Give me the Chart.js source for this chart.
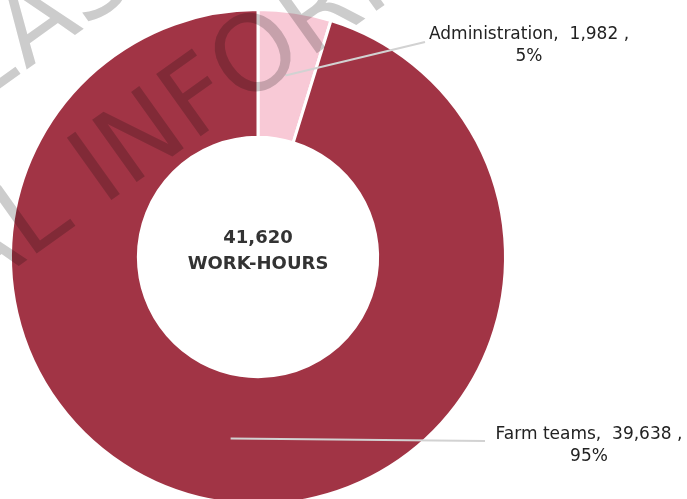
<!DOCTYPE html>
<html>
<head>
<meta charset="utf-8">
<script src="https://cdn.jsdelivr.net/npm/chart.js@4"></script>
<style>
  html, body { margin: 0; padding: 0; background: #fff; overflow: hidden; }
  #wrap { position: relative; width: 687px; height: 514px; }
</style>
</head>
<body>
<div id="wrap"><canvas id="chart"></canvas></div>
<script>
const categories = ['Administration', 'Farm teams'];
const workHours = [1982, 39638];
const valueLabels = ['1,982', '39,638'];
const shareLabels = ['5%', '95%'];
const totalLabel = '41,620';
const totalUnit = 'WORK-HOURS';
const sliceColors = ['#f8c9d6', '#a13445'];

// where each callout sits: text centre and the end of its leader line
const callouts = [
  { textX: 529, textY: 35, lineEndX: 425, lineEndY: 42 },
  { textX: 589, textY: 435, lineEndX: 485, lineEndY: 441 }
];

const calloutPlugin = {
  id: 'callouts',
  afterDatasetsDraw(chart) {
    const ctx = chart.ctx;
    const arcs = chart.getDatasetMeta(0).data;
    ctx.save();

    // total in the hole
    const cx = arcs[0].x;
    const cy = arcs[0].y;
    ctx.fillStyle = '#333';
    ctx.textAlign = 'center';
    ctx.textBaseline = 'middle';
    ctx.font = 'bold 18px "DejaVu Sans"';
    ctx.fillText(totalLabel, cx, cy - 19);
    ctx.fillText(totalUnit, cx, cy + 7);

    // leader lines from the middle of each slice
    arcs.forEach((arc, i) => {
      const p = arc.tooltipPosition();
      const c = callouts[i];
      ctx.strokeStyle = '#d2d2d2';
      ctx.lineWidth = 2;
      ctx.beginPath();
      ctx.moveTo(p.x, p.y);
      ctx.lineTo(c.lineEndX, c.lineEndY);
      ctx.stroke();

      ctx.fillStyle = '#222';
      ctx.font = '17px "DejaVu Sans"';
      ctx.fillText(categories[i] + ',  ' + valueLabels[i] + ' ,', c.textX, c.textY);
      ctx.fillText(shareLabels[i], c.textX, c.textY + 22);
    });
    ctx.restore();
  },
  afterDraw(chart) {
    // document stamp across the page
    const ctx = chart.ctx;
    ctx.save();
    ctx.globalCompositeOperation = 'multiply';
    ctx.fillStyle = 'rgb(204, 204, 204)';
    ctx.font = '105px "DejaVu Sans"';
    ctx.textBaseline = 'alphabetic';
    ctx.textAlign = 'left';
    const angle = -0.62;

    ctx.save();
    ctx.translate(26, 70);
    ctx.rotate(angle);
    ctx.fillText('RELEASED UNDER THE', -ctx.measureText('RELE').width, 0);
    ctx.restore();

    ctx.save();
    ctx.translate(103, 206);
    ctx.rotate(angle);
    ctx.fillText('OFFICIAL INFORMATION ACT', -ctx.measureText('OFFICIAL ').width, 0);
    ctx.restore();

    ctx.restore();
  }
};

new Chart(document.getElementById('chart').getContext('2d'), {
  type: 'doughnut',
  data: {
    labels: categories,
    datasets: [
      {
        data: workHours,
        backgroundColor: sliceColors,
        borderColor: '#ffffff',
        borderWidth: 3,
        radius: 247.5,
        cutout: 123.5
      }
    ]
  },
  options: {
    responsive: true,
    maintainAspectRatio: false,
    animation: false,
    layout: {
      padding: { left: 0, right: 171, top: 0, bottom: 0 }
    },
    plugins: {
      legend: { display: false },
      tooltip: { enabled: false }
    }
  },
  plugins: [calloutPlugin]
});
</script>
</body>
</html>
